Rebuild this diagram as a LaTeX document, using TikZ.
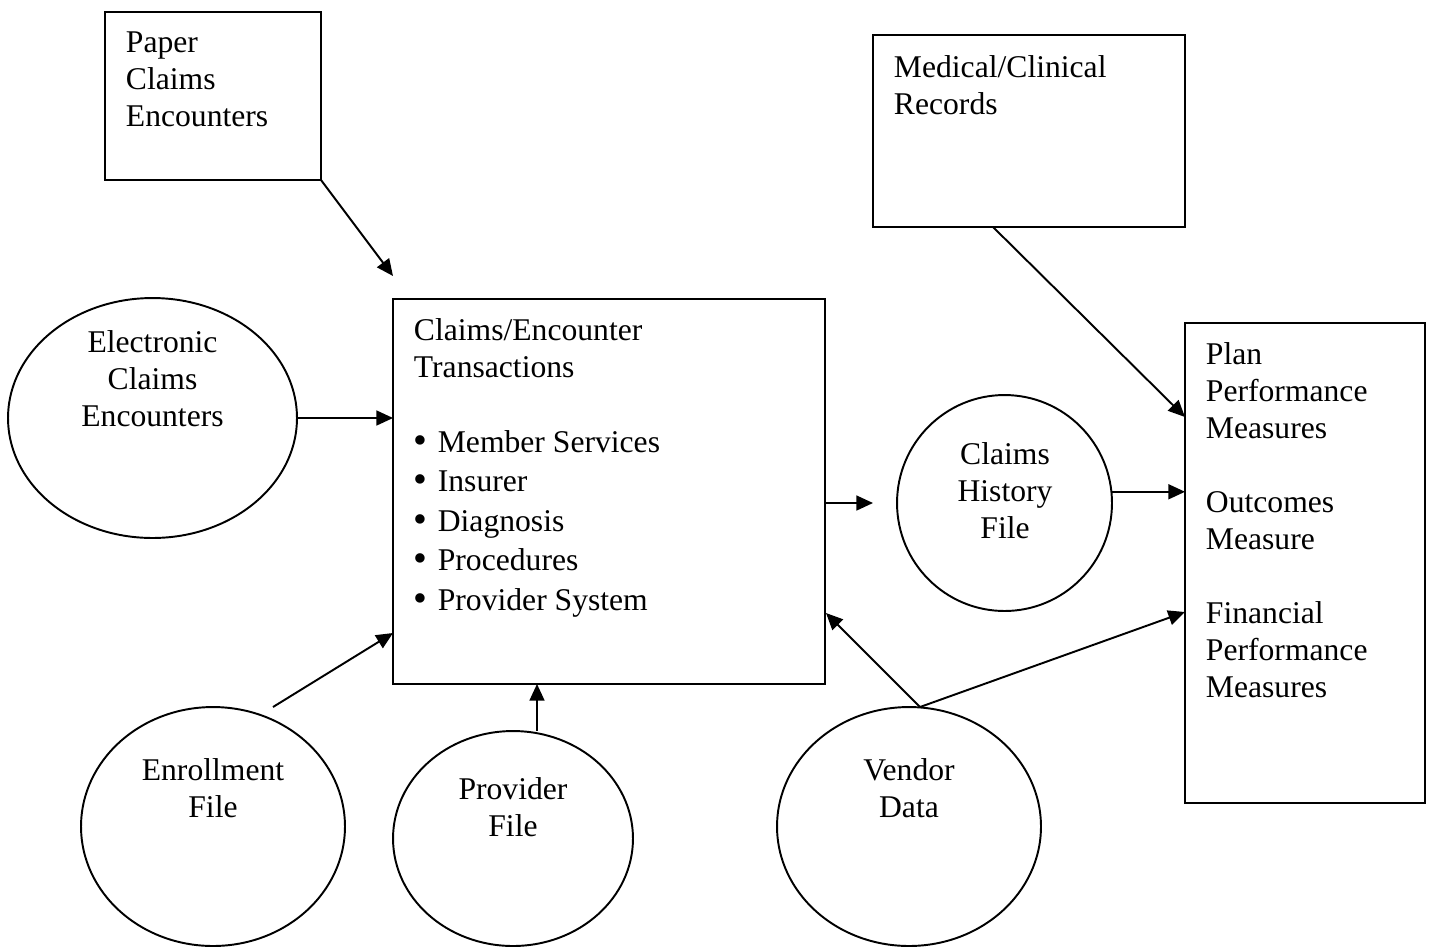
\documentclass[tikz,border=0pt]{standalone}
\usepackage{fontspec}
\usepackage{graphicx}
\setmainfont{Liberation Serif}
\usetikzlibrary{arrows.meta,shapes.geometric}
\newcommand{\blt}{\makebox[13.6pt][l]{\raisebox{-0.6pt}{\scalebox{1.25}{•}}}}
\begin{document}
\begin{tikzpicture}[x={(0.02cm,0)}, y={(0,-0.02cm)}, line width=1.1pt,
  boxshape/.style={draw, rectangle, inner sep=0pt, outer sep=0pt},
  ovalshape/.style={draw, ellipse, inner sep=0pt, outer sep=0pt},
  txt/.style={font=\fontsize{18pt}{21.1pt}\selectfont, inner sep=0pt, anchor=base west, align=flush left, text width=#1,
    execute at begin node={\spaceskip=0pt\xspaceskip=0pt}},
  ctxt/.style={font=\fontsize{18pt}{21.1pt}\selectfont, inner sep=0pt, anchor=base, align=flush center, text width=#1,
    execute at begin node={\spaceskip=0pt\xspaceskip=0pt}},
  arr/.style={-{Triangle[length=9.5pt,width=8.5pt]}}]
\useasboundingbox (0,0) rectangle (1432,948);

% rectangles
\node[boxshape, minimum width=4.32cm, minimum height=3.36cm] (paper) at (213,96) {};
\node[boxshape, minimum width=6.24cm, minimum height=3.84cm] (med) at (1029,131) {};
\node[boxshape, minimum width=8.64cm, minimum height=7.70cm] (main) at (609,491.5) {};
\node[boxshape, minimum width=4.80cm, minimum height=9.60cm] (right) at (1305,563) {};

% ellipses
\node[ovalshape, minimum width=5.78cm, minimum height=4.80cm] (elec) at (152.5,418) {};
\node[ovalshape, minimum width=4.30cm, minimum height=4.32cm] (ch) at (1004.5,503) {};
\node[ovalshape, minimum width=5.28cm, minimum height=4.78cm] (enr) at (213,826.5) {};
\node[ovalshape, minimum width=4.80cm, minimum height=4.30cm] (prov) at (513,838.5) {};
\node[ovalshape, minimum width=5.28cm, minimum height=4.78cm] (vend) at (909,826.5) {};

% texts
\node[txt=4cm] (paperT) at (125,52) {Paper\\Claims\\Encounters};
\node[txt=6cm] (medT) at (893,77) {Medical/Clinical\\Records};
\node[txt=8cm] (mainT) at (413,340) {Claims/Encounter\\Transactions};
\node[txt=8cm, font=\fontsize{18pt}{22.5pt}\selectfont] (mainB) at (413,452)
  {\blt Member Services\\
   \blt Insurer\\
   \blt Diagnosis\\
   \blt Procedures\\
   \blt Provider System};
\node[txt=4.4cm] (rightT) at (1205,364) {Plan\\Performance\\Measures\\[21.1pt]Outcomes\\Measure\\[21.1pt]Financial\\Performance\\Measures};
\node[ctxt=5cm] (elecT) at (152.5,352) {Electronic\\Claims\\Encounters};
\node[ctxt=4cm] (chT) at (1005,464) {Claims\\History\\File};
\node[ctxt=5cm] (enrT) at (213,780) {Enrollment\\File};
\node[ctxt=4.5cm] (provT) at (513,799) {Provider\\File};
\node[ctxt=5cm] (vendT) at (909,780) {Vendor\\Data};

% connector ends
\coordinate (pTip) at (393,276);
\coordinate (chIn) at (873,503);
\coordinate (medOut) at (993,227);
\coordinate (medIn) at (1185,417);
\coordinate (enrOut) at (273,707);
\coordinate (enrIn) at (393,633);
\coordinate (provOut) at (537,731);
\coordinate (vendOut) at (920,707);
\coordinate (vIn1) at (826,613);
\coordinate (vIn2) at (1185,612);

% connectors
\draw[arr] (paper.south east) -- (pTip);
\draw[arr] (elec.east) -- (elec.east -| main.west);
\draw[arr] (main.east |- ch.center) -- (chIn);
\draw[arr] (ch.6) -- (ch.6 -| right.west);
\draw[arr] (medOut) -- (medIn);
\draw[arr] (enrOut) -- (enrIn);
\draw[arr] (provOut) -- (provOut |- main.south);
\draw[arr] (vendOut) -- (vIn1);
\draw[arr] (vendOut) -- (vIn2);
\end{tikzpicture}
\end{document}
